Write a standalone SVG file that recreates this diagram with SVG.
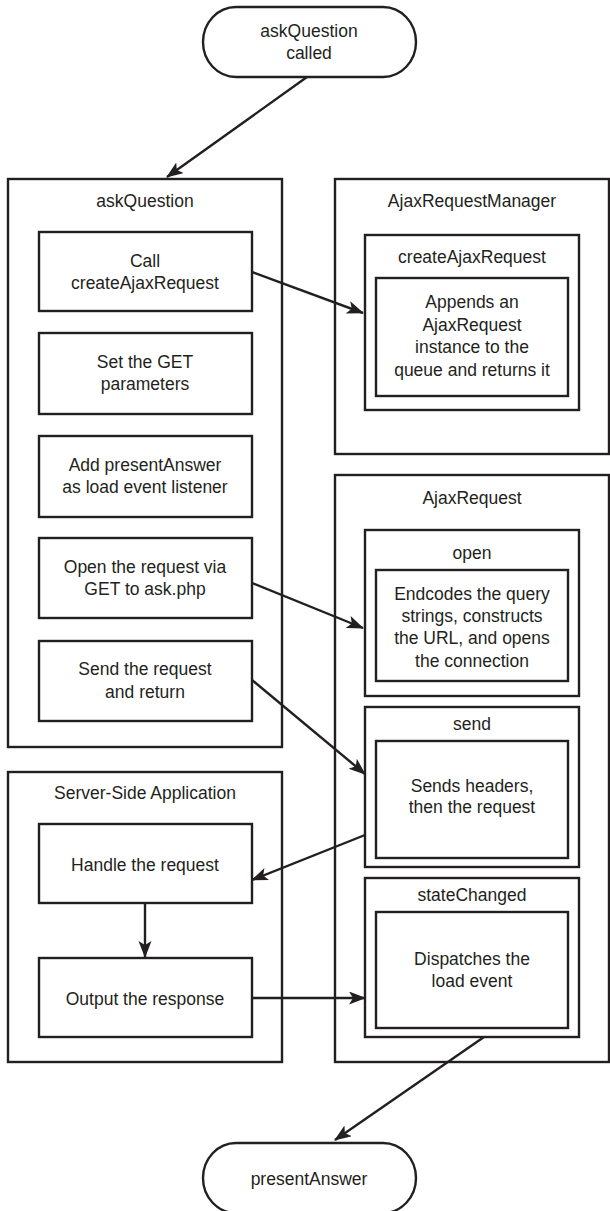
<svg xmlns="http://www.w3.org/2000/svg" width="610" height="1211" viewBox="0 0 610 1211">
<style>
.box{fill:#fff;stroke:#231f20;stroke-width:2.4}
.t{font-family:"Liberation Sans",Arial,sans-serif;font-size:17.5px;fill:#231f20;text-anchor:middle}
.c{fill:none;stroke:#231f20;stroke-width:2.4;marker-end:url(#ah)}
</style>
<defs>
<marker id="ah" markerUnits="userSpaceOnUse" markerWidth="18" markerHeight="14" refX="16" refY="6.5" orient="auto">
<path d="M0,0 L17,6.5 L0,13 L4,6.5 z" fill="#231f20"/>
</marker>
</defs>
<rect width="610" height="1211" fill="#fff"/>
<g id="start">
<rect class="box" x="203" y="7" width="213" height="70" rx="33" ry="35"/>
<text class="t" x="309" y="37">askQuestion</text>
<text class="t" x="309" y="59">called</text>
</g>
<g id="askQuestion">
<rect class="box" x="8" y="179" width="274" height="568"/>
<text class="t" x="145" y="207">askQuestion</text>
</g>
<g id="callCreate">
<rect class="box" x="39" y="232" width="213" height="79"/>
<text class="t" x="145" y="267">Call</text>
<text class="t" x="145" y="289">createAjaxRequest</text>
</g>
<g id="setGet">
<rect class="box" x="39" y="333" width="213" height="81"/>
<text class="t" x="145" y="368">Set the GET</text>
<text class="t" x="145" y="390">parameters</text>
</g>
<g id="addListener">
<rect class="box" x="39" y="436" width="213" height="81"/>
<text class="t" x="145" y="471">Add presentAnswer</text>
<text class="t" x="145" y="493">as load event listener</text>
</g>
<g id="openReq">
<rect class="box" x="39" y="538" width="213" height="80"/>
<text class="t" x="145" y="573">Open the request via</text>
<text class="t" x="145" y="595">GET to ask.php</text>
</g>
<g id="sendReq">
<rect class="box" x="39" y="641" width="213" height="80"/>
<text class="t" x="145" y="675">Send the request</text>
<text class="t" x="145" y="698">and return</text>
</g>
<g id="manager">
<rect class="box" x="335" y="179" width="274" height="275"/>
<text class="t" x="472" y="207">AjaxRequestManager</text>
</g>
<g id="createAjaxRequest">
<rect class="box" x="365" y="235" width="214" height="175"/>
<text class="t" x="472" y="263">createAjaxRequest</text>
</g>
<g id="appends">
<rect class="box" x="376" y="278" width="192" height="118"/>
<text class="t" x="472" y="308">Appends an</text>
<text class="t" x="472" y="331">AjaxRequest</text>
<text class="t" x="472" y="353">instance to the</text>
<text class="t" x="472" y="376">queue and returns it</text>
</g>
<g id="ajaxRequest">
<rect class="box" x="335" y="475" width="274" height="587"/>
<text class="t" x="472" y="504">AjaxRequest</text>
</g>
<g id="open">
<rect class="box" x="365" y="530" width="214" height="166"/>
<text class="t" x="472" y="559">open</text>
</g>
<g id="encodes">
<rect class="box" x="376" y="570" width="192" height="111"/>
<text class="t" x="472" y="600">Endcodes the query</text>
<text class="t" x="472" y="622">strings, constructs</text>
<text class="t" x="472" y="644">the URL, and opens</text>
<text class="t" x="472" y="667">the connection</text>
</g>
<g id="send">
<rect class="box" x="365" y="707" width="214" height="160"/>
<text class="t" x="472" y="730">send</text>
</g>
<g id="sendsHeaders">
<rect class="box" x="376" y="741" width="192" height="117"/>
<text class="t" x="472" y="792">Sends headers,</text>
<text class="t" x="472" y="813">then the request</text>
</g>
<g id="stateChanged">
<rect class="box" x="365" y="878" width="214" height="159"/>
<text class="t" x="472" y="901">stateChanged</text>
</g>
<g id="dispatches">
<rect class="box" x="376" y="912" width="192" height="116"/>
<text class="t" x="472" y="965">Dispatches the</text>
<text class="t" x="472" y="987">load event</text>
</g>
<g id="server">
<rect class="box" x="8" y="772" width="274" height="290"/>
<text class="t" x="145" y="799">Server-Side Application</text>
</g>
<g id="handle">
<rect class="box" x="39" y="824" width="213" height="79"/>
<text class="t" x="145" y="871">Handle the request</text>
</g>
<g id="output">
<rect class="box" x="39" y="958" width="213" height="79"/>
<text class="t" x="145" y="1005">Output the response</text>
</g>
<g id="end">
<rect class="box" x="203" y="1143" width="213" height="70" rx="33" ry="35"/>
<text class="t" x="309" y="1185">presentAnswer</text>
</g>
<g id="connectors">
<line class="c" x1="307" y1="77" x2="167" y2="177"/>
<line class="c" x1="252" y1="272" x2="363" y2="313"/>
<line class="c" x1="252" y1="583" x2="363" y2="628"/>
<line class="c" x1="252" y1="680" x2="365" y2="774"/>
<line class="c" x1="365" y1="835" x2="252" y2="880"/>
<line class="c" x1="145" y1="903" x2="145" y2="957"/>
<line class="c" x1="252" y1="998" x2="365" y2="998"/>
<line class="c" x1="484" y1="1037" x2="335" y2="1140"/>
</g>
</svg>
